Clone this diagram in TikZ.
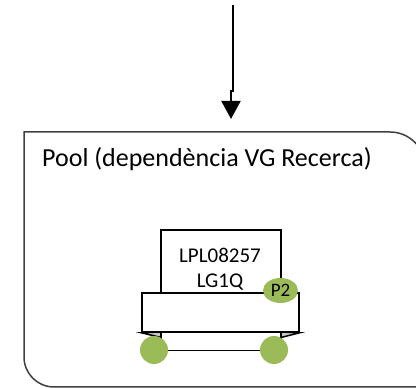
\documentclass[tikz,border=0pt]{standalone}
\usepackage{fontspec}
\setmainfont{Carlito}
\usepackage{tikz}
\usetikzlibrary{shapes.geometric, arrows.meta, positioning}
\definecolor{wheelgreen}{RGB}{155,187,89}
\definecolor{pooledge}{RGB}{64,64,64}

\begin{document}
\begin{tikzpicture}[x=1pt, y=1pt]
    % styles
    \tikzstyle{pool} = [draw=pooledge, line width=1.5pt]
    \tikzstyle{part} = [rectangle, draw, fill=white, line width=1.5pt, inner sep=0pt]
    \tikzstyle{wheel} = [circle, fill=wheelgreen, minimum size=28pt, inner sep=0pt]
    \tikzstyle{port} = [ellipse, fill=wheelgreen, minimum width=35pt, minimum height=25pt, inner sep=0pt, font=\fontsize{19}{20}\selectfont]
    \tikzstyle{arrow} = [line width=2pt, -{Triangle[length=18pt, width=19pt]}]

    \useasboundingbox (0,0) rectangle (416,389);
    \clip (0,0) rectangle (416,389);

    % pool
    \draw[pool] (24,257) -- (390,257) arc[start angle=90, end angle=0, radius=35] -- (425,2)
        -- (54,2) arc[start angle=270, end angle=180, radius=30] -- cycle;
    \node (title) [anchor=base west, font=\fontsize{26}{30}\selectfont, inner sep=0pt] at (42,222) {Pool (dependència VG Recerca)};

    % machine
    \node (cab) [part, minimum width=120pt, minimum height=63pt] at (221,127.5) {};
    \node (cabtext) [align=center, font=\fontsize{21}{25}\selectfont] at (220,120) {LPL08257\\LG1Q};
    \node (base) [part, minimum width=157pt, minimum height=39pt] at (220.5,76.5) {};
    \draw[line width=1.5pt, fill=gray!45] (base.south west) -- (161,51.5) -- (161,57) -- cycle;
    \draw[line width=1.5pt, fill=gray!45] (base.south east) -- (281,51.5) -- (281,57) -- cycle;
    \node (chassis) [part, fill=none, minimum width=120pt, minimum height=18pt, anchor=north] at (221,57) {};
    \node (lwheel) [wheel] at (154,39) {};
    \node (rwheel) [wheel] at (274,39) {};
    \node (p2) [port] at (280.5,98.5) {P2};

    % arrow
    \coordinate (src) at (233,384);
    \coordinate (entry) at (231,270);
    \draw[arrow] (src) -- ++(0,-86) -| (entry);
\end{tikzpicture}
\end{document}
